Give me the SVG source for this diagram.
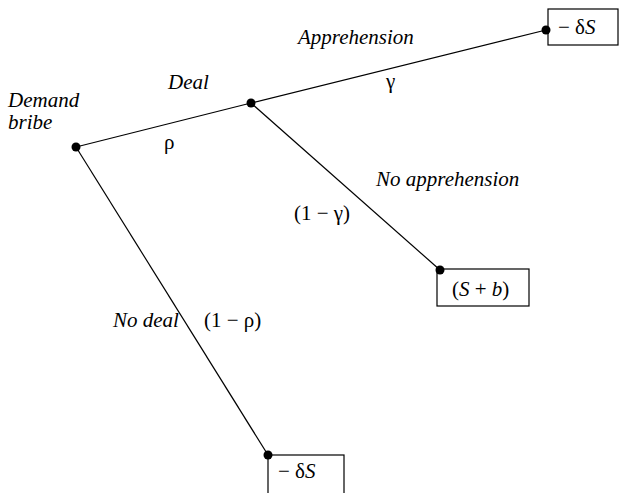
<svg xmlns="http://www.w3.org/2000/svg" width="619" height="493" viewBox="0 0 619 493">
<rect width="619" height="493" fill="#fff"/>
<g id="connectors" stroke="#000" stroke-width="1.2" fill="none">
<line x1="76" y1="147" x2="251" y2="103"/>
<line x1="251" y1="103" x2="546" y2="30"/>
<line x1="251" y1="103" x2="440" y2="270"/>
<line x1="76" y1="147" x2="268" y2="455"/>
</g>
<g id="node-demand">
<circle fill="#000" cx="76" cy="147" r="4.5"/>
<text font-family="Liberation Serif" font-size="21" font-style="italic" x="8" y="107">Demand</text>
<text font-family="Liberation Serif" font-size="21" font-style="italic" x="8" y="129">bribe</text>
</g>
<g id="node-deal">
<circle fill="#000" cx="251" cy="103" r="4.5"/>
</g>
<g id="labels">
<text font-family="Liberation Serif" font-size="21" font-style="italic" x="168" y="89">Deal</text>
<text font-family="Liberation Serif" font-size="21" x="164" y="149">ρ</text>
<text font-family="Liberation Serif" font-size="21" font-style="italic" x="298" y="44">Apprehension</text>
<text font-family="Liberation Serif" font-size="21" x="386" y="88">γ</text>
<text font-family="Liberation Serif" font-size="21" font-style="italic" x="376" y="186">No apprehension</text>
<text font-family="Liberation Serif" font-size="21" x="294" y="220">(1 − γ)</text>
<text font-family="Liberation Serif" font-size="21" font-style="italic" x="113" y="327">No deal</text>
<text font-family="Liberation Serif" font-size="21" x="204" y="327">(1 − ρ)</text>
</g>
<g id="node-apprehension">
<rect fill="#fff" stroke="#000" stroke-width="1.2" x="548" y="9" width="70" height="36"/>
<circle fill="#000" cx="546" cy="30" r="4.5"/>
<text font-family="Liberation Serif" font-size="21" x="558" y="34">− δ<tspan font-style="italic">S</tspan></text>
</g>
<g id="node-noapprehension">
<rect fill="#fff" stroke="#000" stroke-width="1.2" x="437" y="269" width="92" height="37"/>
<circle fill="#000" cx="440" cy="270" r="4.5"/>
<text font-family="Liberation Serif" font-size="21" x="452" y="296">(<tspan font-style="italic">S</tspan> + <tspan font-style="italic">b</tspan>)</text>
</g>
<g id="node-nodeal">
<rect fill="#fff" stroke="#000" stroke-width="1.2" x="268" y="455" width="76" height="45"/>
<circle fill="#000" cx="268" cy="455" r="4.5"/>
<text font-family="Liberation Serif" font-size="21" x="278" y="478">− δ<tspan font-style="italic">S</tspan></text>
</g>
</svg>
